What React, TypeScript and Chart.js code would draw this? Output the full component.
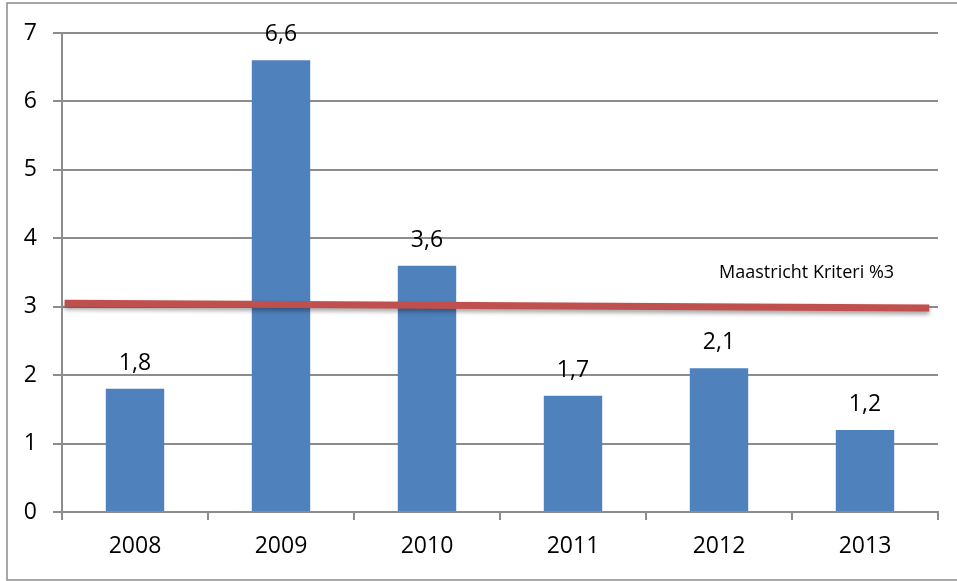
import React, { useEffect, useRef } from "react";
import { Chart, registerables } from "chart.js";

Chart.register(...registerables);

const categories = ["2008", "2009", "2010", "2011", "2012", "2013"];
const values = [1.8, 6.6, 3.6, 1.7, 2.1, 1.2];
const yTicks = [0, 1, 2, 3, 4, 5, 6, 7];
const criterionX = [0.003, 0.99];
const criterionY = [3.05, 2.98];
const criterionLabel = "Maastricht Kriteri %3";
const criterionLabelPos = [0.85, 3.49];

const FONT = "'Open Sans', Lato, sans-serif";
const GRID = "#8c8c8c";

export default function App() {
  const ref = useRef<HTMLCanvasElement | null>(null);

  useEffect(() => {
    document.body.style.margin = "0";
    const canvas = ref.current;
    if (!canvas) return;

    const framePlugin = {
      id: "frame",
      beforeDraw(chart: any) {
        const ctx = chart.ctx;
        ctx.save();
        ctx.fillStyle = "#ffffff";
        ctx.fillRect(0, 0, chart.width, chart.height);
        ctx.strokeStyle = "#8a8a8a";
        ctx.lineWidth = 1.5;
        ctx.strokeRect(7, 3, chart.width, 577);
        ctx.restore();
      },
    };

    const shadowPlugin = {
      id: "lineShadow",
      beforeDatasetDraw(chart: any, args: any) {
        if (args.index === 0) {
          const ctx = chart.ctx;
          ctx.save();
          ctx.shadowColor = "rgba(0,0,0,0.35)";
          ctx.shadowBlur = 4;
          ctx.shadowOffsetY = 3;
        }
      },
      afterDatasetDraw(chart: any, args: any) {
        if (args.index === 0) chart.ctx.restore();
      },
    };

    const labelPlugin = {
      id: "labels",
      afterDatasetsDraw(chart: any) {
        const ctx = chart.ctx;
        const meta = chart.getDatasetMeta(1);
        ctx.save();
        ctx.fillStyle = "#000";
        ctx.font = `23px ${FONT}`;
        ctx.textAlign = "center";
        ctx.textBaseline = "alphabetic";
        meta.data.forEach((el: any, i: number) => {
          ctx.fillText(String(values[i]).replace(".", ","), el.x, el.y - 19);
        });
        const x2 = chart.scales.x2;
        const y = chart.scales.y;
        ctx.font = `18px ${FONT}`;
        ctx.textBaseline = "middle";
        ctx.fillText(
          criterionLabel,
          x2.getPixelForValue(criterionLabelPos[0]),
          y.getPixelForValue(criterionLabelPos[1])
        );
        ctx.restore();
      },
    };

    const chart = new Chart(canvas, {
      data: {
        labels: categories,
        datasets: [
          {
            type: "line",
            label: criterionLabel,
            data: criterionX.map((x, i) => ({ x, y: criterionY[i] })),
            xAxisID: "x2",
            borderColor: "#C0504D",
            borderWidth: 7,
            pointRadius: 0,
            order: 0,
          } as any,
          {
            type: "bar",
            label: "values",
            data: values,
            xAxisID: "x",
            backgroundColor: "#4F81BD",
            barPercentage: 0.4,
            categoryPercentage: 1,
            grouped: false,
            order: 1,
          },
        ],
      },
      options: {
        animation: false,
        responsive: true,
        maintainAspectRatio: false,
        layout: { padding: { left: 0, top: 33, right: 19, bottom: 0 } },
        plugins: {
          legend: { display: false },
          tooltip: { enabled: false },
        },
        scales: {
          x: {
            type: "category",
            offset: true,
            grid: {
              offset: true,
              drawOnChartArea: false,
              drawTicks: true,
              tickLength: 8,
              color: GRID,
              lineWidth: 2,
            },
            border: { display: true, color: GRID, width: 2 },
            ticks: {
              color: "#000",
              font: { family: FONT, size: 23 },
              padding: 13,
              maxRotation: 0,
            },
            afterFit: (s: any) => {
              s.height = 69;
            },
          },
          x2: {
            type: "linear",
            display: false,
            min: 0,
            max: 1,
          },
          y: {
            min: 0,
            max: 7,
            afterBuildTicks: (s: any) => {
              s.ticks = yTicks.map((v) => ({ value: v }));
            },
            grid: {
              color: GRID,
              lineWidth: 2,
              drawTicks: true,
              tickLength: 9,
            },
            border: { display: true, color: GRID, width: 2 },
            ticks: {
              color: "#000",
              font: { family: FONT, size: 23 },
              padding: 16,
            },
            afterFit: (s: any) => {
              s.width = 62;
            },
          },
        },
      },
      plugins: [framePlugin, shadowPlugin, labelPlugin],
    } as any);

    return () => chart.destroy();
  }, []);

  return (
    <div style={{ width: 957, height: 581, position: "relative" }}>
      <canvas ref={ref} />
    </div>
  );
}
